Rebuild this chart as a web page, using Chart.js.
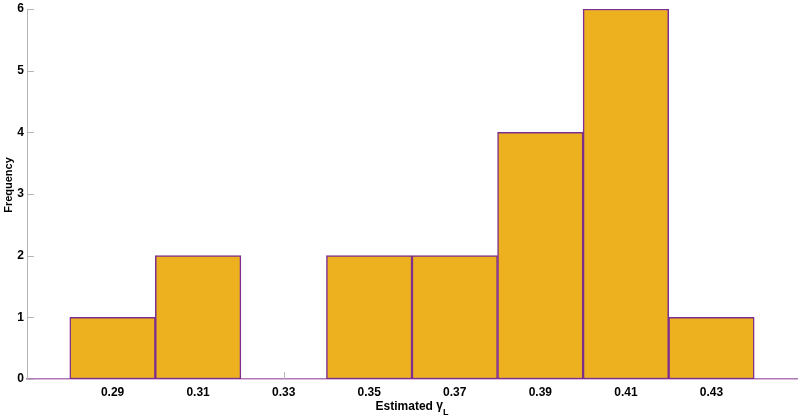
<!DOCTYPE html>
<html lang="en">
<head>
    <meta charset="UTF-8">
    <script src="https://cdn.jsdelivr.net/npm/chart.js@4.4.1/dist/chart.umd.min.js"></script>
    <title>Estimated gamma histogram</title>
    <style>
        body { margin: 0; background: #fff; }
        #wrap { width: 800px; height: 419px; position: relative; }
    </style>
</head>
<body>
    <div id="wrap"><canvas id="chart"></canvas></div>
    <script>
        // histogram bins (centres) and counts
        const binCenters = [0.29, 0.31, 0.33, 0.35, 0.37, 0.39, 0.41, 0.43];
        const counts = [1, 2, 0, 2, 2, 4, 6, 1];
        const xTicks = [0.29, 0.31, 0.33, 0.35, 0.37, 0.39, 0.41, 0.43];
        const yTicks = [0, 1, 2, 3, 4, 5, 6];

        const FONT = '"Liberation Sans", Arial, sans-serif';

        // inward tick marks + axis titles drawn the matlab way
        const matlabLook = {
            id: 'matlabLook',
            beforeDatasetsDraw(chart) {
                const ctx = chart.ctx;
                const x = chart.scales.x, y = chart.scales.y;
                const area = chart.chartArea;
                ctx.save();
                ctx.strokeStyle = '#b5b5b5';
                ctx.lineWidth = 1;
                ctx.beginPath();
                yTicks.forEach(v => {
                    const py = Math.round(y.getPixelForValue(v)) + 0.5;
                    ctx.moveTo(area.left, py);
                    ctx.lineTo(area.left + 7, py);
                });
                xTicks.forEach(v => {
                    const px = Math.round(x.getPixelForValue(v)) + 0.5;
                    ctx.moveTo(px, area.bottom);
                    ctx.lineTo(px, area.bottom - 7);
                });
                ctx.stroke();
                ctx.restore();
            },
            afterDraw(chart) {
                const ctx = chart.ctx;
                const area = chart.chartArea;
                ctx.save();
                ctx.fillStyle = '#000';
                ctx.textBaseline = 'alphabetic';

                // x title with subscript L
                const main = 'Estimated ';
                const greek = 'γ';
                const sub = 'L';
                ctx.font = 'bold 12px ' + FONT;
                const w1 = ctx.measureText(main).width;
                const w2 = ctx.measureText(greek).width;
                ctx.font = 'bold 9px ' + FONT;
                const w3 = ctx.measureText(sub).width;
                const sx = (area.left + area.right) / 2 - (w1 + w2 + w3) / 2;
                const base = 410;
                ctx.font = 'bold 12px ' + FONT;
                ctx.fillText(main, sx, base);
                ctx.fillText(greek, sx + w1, base - 1);
                ctx.font = 'bold 9px ' + FONT;
                ctx.fillText(sub, sx + w1 + w2, base + 5);

                // y title
                ctx.translate(11.5, 185);
                ctx.rotate(-Math.PI / 2);
                ctx.textAlign = 'center';
                ctx.font = 'bold 11px ' + FONT;
                ctx.fillText('Frequency', 0, 0);
                ctx.restore();
            }
        };

        new Chart(document.getElementById('chart'), {
            type: 'bar',
            data: {
                datasets: [{
                    label: 'Frequency',
                    data: binCenters.map((c, i) => ({ x: c, y: counts[i] })),
                    backgroundColor: '#EDB120',
                    borderColor: '#7E2F8E',
                    borderWidth: 1.5,
                    borderSkipped: false,
                    barPercentage: 1,
                    categoryPercentage: 1
                }]
            },
            options: {
                responsive: true,
                maintainAspectRatio: false,
                animation: false,
                devicePixelRatio: 1,
                layout: { padding: { top: 9, right: 3, left: 0, bottom: 0 } },
                plugins: {
                    legend: { display: false },
                    tooltip: { enabled: false }
                },
                scales: {
                    x: {
                        type: 'linear',
                        offset: false,
                        min: 0.27,
                        max: 0.45,
                        afterBuildTicks: axis => { axis.ticks = xTicks.map(v => ({ value: v })); },
                        afterFit: axis => { axis.height = 40; },
                        grid: { display: false, drawTicks: false, offset: false },
                        border: { display: true, color: '#b277b8', width: 1.5 },
                        ticks: {
                            padding: 6,
                            color: '#000',
                            font: { family: FONT, size: 12, weight: 'bold' },
                            maxRotation: 0,
                            autoSkip: false,
                            callback: v => v.toFixed(2)
                        }
                    },
                    y: {
                        min: 0,
                        max: 6,
                        afterBuildTicks: axis => { axis.ticks = yTicks.map(v => ({ value: v })); },
                        afterFit: axis => { axis.width = 27; axis.paddingTop = 0; },
                        grid: { display: false, drawTicks: false },
                        border: { display: true, color: '#b5b5b5', width: 1 },
                        ticks: {
                            padding: 3,
                            color: '#000',
                            font: { family: FONT, size: 12, weight: 'bold', lineHeight: 1 }
                        }
                    }
                }
            },
            plugins: [matlabLook]
        });
    </script>
</body>
</html>
